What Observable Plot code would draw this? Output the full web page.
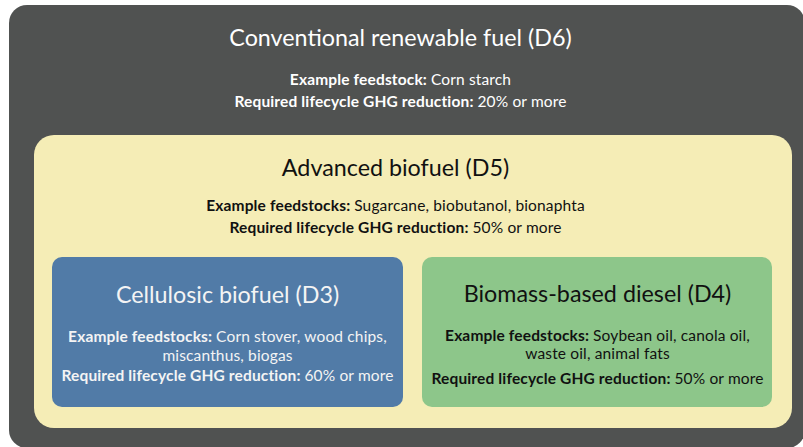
<!DOCTYPE html>
<html>
<head>
<meta charset="utf-8">
<script src="https://cdn.jsdelivr.net/npm/d3@7"></script>
<script src="https://cdn.jsdelivr.net/npm/@observablehq/plot@0.6"></script>
<style>
  html, body { margin: 0; padding: 0; background: #ffffff; }
  #chart svg { display: block; }
</style>
</head>
<body>
<div id="chart"></div>
<script>
// ---- Data ----
const categories = [
  "Conventional renewable fuel (D6)",
  "Advanced biofuel (D5)",
  "Cellulosic biofuel (D3)",
  "Biomass-based diesel (D4)"
];
const feedstockLabels = ["Example feedstock:", "Example feedstocks:", "Example feedstocks:", "Example feedstocks:"];
const feedstockLines = [
  ["Corn starch"],
  ["Sugarcane, biobutanol, bionaphta"],
  ["Corn stover, wood chips,", "miscanthus, biogas"],
  ["Soybean oil, canola oil,", "waste oil, animal fats"]
];
const reductionLabel = "Required lifecycle GHG reduction:";
const reductions = ["20% or more", "50% or more", "60% or more", "50% or more"];

// ---- Layout (positions / styles kept separately) ----
const boxes = [
  {x1: 9,   x2: 805, y1: 5,   y2: 448, r: 18, fill: "#505251", ink: "#ffffff", cx: 400, titleY: 45,  lineY: [84, 106]},
  {x1: 34,  x2: 792, y1: 135, y2: 428, r: 20, fill: "#f5edb6", ink: "#111111", cx: 395, titleY: 175, lineY: [210, 232]},
  {x1: 52,  x2: 403, y1: 257, y2: 407, r: 10, fill: "#517ba7", ink: "#f4f4f4", cx: 227, titleY: 302, lineY: [341, 360, 380]},
  {x1: 422, x2: 772, y1: 257, y2: 407, r: 10, fill: "#8dc68a", ink: "#111111", cx: 597, titleY: 301, lineY: [340, 358, 383]}
];

const rects = categories.map((c, i) => ({category: c, ...boxes[i]}));
const titles = categories.map((c, i) => ({text: c, x: boxes[i].cx, y: boxes[i].titleY, ink: boxes[i].ink}));
const lines = [];
categories.forEach((c, i) => {
  const b = boxes[i];
  const fl = feedstockLines[i];
  fl.forEach((t, j) => {
    lines.push({text: j === 0 ? feedstockLabels[i] + "|" + t : "|" + t, x: b.cx, y: b.lineY[j], ink: b.ink});
  });
  lines.push({text: reductionLabel + "|" + reductions[i], x: b.cx, y: b.lineY[fl.length], ink: b.ink});
});

const FONT = "Lato, 'Open Sans', sans-serif";

const chart = Plot.plot({
  width: 803,
  height: 447,
  margin: 0,
  x: {domain: [0, 803], range: [0, 803], axis: null},
  y: {domain: [0, 447], range: [0, 447], axis: null},
  style: {background: "#ffffff", fontFamily: FONT},
  marks: [
    Plot.rect(rects, {x1: "x1", x2: "x2", y1: "y1", y2: "y2", fill: d => d.fill}),
    Plot.text(titles, {x: "x", y: "y", text: "text", fill: d => d.ink, fontSize: 23.3, fontFamily: FONT, lineAnchor: "bottom", textAnchor: "middle", className: "titles"}),
    Plot.text(lines, {x: "x", y: "y", text: "text", fill: d => d.ink, fontSize: 15.5, fontFamily: FONT, lineAnchor: "bottom", textAnchor: "middle", className: "bodylines"})
  ]
});

// rounded corners per rect
d3.select(chart).selectAll("rect").each(function(d, i) {
  const r = rects[i] ? rects[i].r : 0;
  this.setAttribute("rx", r);
  this.setAttribute("ry", r);
});

// split bold label / regular value
d3.select(chart).selectAll("g.bodylines text").each(function() {
  this.setAttribute("letter-spacing", "0.15");
  const t = this.textContent;
  const k = t.indexOf("|");
  const bold = t.slice(0, k);
  const rest = t.slice(k + 1);
  this.textContent = "";
  if (bold) {
    const b = document.createElementNS("http://www.w3.org/2000/svg", "tspan");
    b.setAttribute("font-weight", "bold");
    b.textContent = bold + " ";
    this.appendChild(b);
  }
  const n = document.createElementNS("http://www.w3.org/2000/svg", "tspan");
  n.textContent = rest;
  this.appendChild(n);
});

document.getElementById("chart").appendChild(chart);
</script>
</body>
</html>
